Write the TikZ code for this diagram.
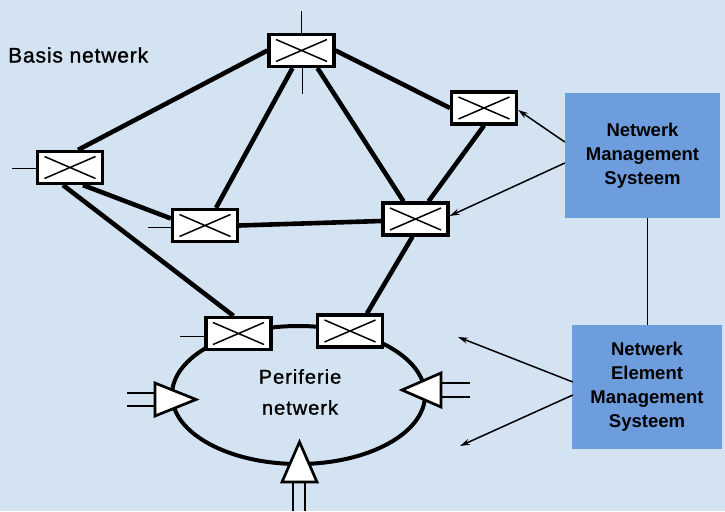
\documentclass[tikz,border=0pt]{standalone}
\usepackage{fontspec}
\setmainfont{Liberation Sans}
\usetikzlibrary{arrows.meta}
\definecolor{paper}{HTML}{D4E3F2}
\definecolor{mgmt}{HTML}{6E9DDE}
\pgfdeclarelayer{paperlayer}
\pgfdeclarelayer{linklayer}
\pgfsetlayers{paperlayer,linklayer,main}

\begin{document}
\begin{tikzpicture}[x=1pt,y=-1pt,
  switch/.style={draw, fill=white, line width=3.2pt, minimum width=65pt,
    minimum height=32pt, inner sep=0pt,
    path picture={\draw[line width=1.5pt]
      ([xshift=7pt,yshift=5pt]path picture bounding box.south west) --
      ([xshift=-7pt,yshift=-5pt]path picture bounding box.north east)
      ([xshift=7pt,yshift=-5pt]path picture bounding box.north west) --
      ([xshift=-7pt,yshift=5pt]path picture bounding box.south east);}},
  link/.style={line width=4.6pt},
  stub/.style={line width=1.5pt},
  ring/.style={line width=4pt},
  port/.style={draw, fill=white, line width=2.7pt, line join=miter},
  mgmtbox/.style={fill=mgmt, draw=none, align=center, inner sep=0pt,
    font=\fontsize{18.5}{24}\selectfont\bfseries},
  label/.style={inner sep=0pt},
  ctrl/.style={line width=1.5pt, -{Stealth[length=10pt,width=6pt]}}
]
\begin{pgfonlayer}{paperlayer}
  \fill[paper] (0,0) rectangle (725,511);
\end{pgfonlayer}
\useasboundingbox (0,0) rectangle (725,511);

% peripheral ring, drawn under the switches that sit on it
\draw[ring] (298.5,395) ellipse [x radius=126.5, y radius=69];

% entry ports on the ring
\coordinate (pl1) at (127,393); \coordinate (pl2) at (127,406);
\coordinate (pr1) at (470,383); \coordinate (pr2) at (470,397);
\coordinate (pb1) at (293,511); \coordinate (pb2) at (305,511);
\draw[stub] (pl1) -- (155,393) (pl2) -- (155,406);
\draw[stub] (pr1) -- (441,383) (pr2) -- (441,397);
\draw[stub] (pb1) -- (293,482) (pb2) -- (305,482);
\draw[port] (155,383) -- (196,399.5) -- (155,416) -- cycle;
\draw[port] (441,373) -- (402,390) -- (441,407) -- cycle;
\draw[port] (282,482) -- (299.5,442) -- (317,482) -- cycle;

% switches
\node[switch] (A) at (70,167.5) {};
\node[switch] (B) at (301.5,50.5) {};
\node[switch] (C) at (484,108) {};
\node[switch] (D) at (205,225.5) {};
\node[switch] (E) at (415.5,219) {};
\node[switch] (F) at (238.5,333.5) {};
\node[switch] (G) at (350,331) {};

% trunk links of the core network
\begin{pgfonlayer}{linklayer}
  \draw[link] ([xshift=8pt]A.north) -- (B.west);
  \draw[link] ([xshift=13pt]A.south) -- ([yshift=7pt]D.west);
  \draw[link] ([xshift=-7pt]A.south) -- ([xshift=-5pt]F.north);
  \draw[link] (B.east) -- (C.west);
  \draw[link] ([xshift=-9pt]B.south) -- ([xshift=11pt]D.north);
  \draw[link] ([xshift=16pt]B.south) -- ([xshift=-12pt]E.north);
  \draw[link] (C.south) -- ([xshift=13pt]E.north);
  \draw[link] (D.east) -- ([yshift=-2pt]E.west);
  \draw[link] ([xshift=-3pt]E.south) -- ([xshift=17pt]G.north);
\end{pgfonlayer}

% access stubs
\draw[stub] ([yshift=-1pt]A.west) -- ++(-24,0);
\draw[stub] (B.north) -- ++(0,-22);
\draw[stub] ([xshift=1pt]B.south) -- ++(0,26);
\draw[stub] ([yshift=-2pt]D.west) -- ++(-23,0);
\draw[stub] ([yshift=-3pt]F.west) -- ++(-24,0);

% labels
\node[label, anchor=west, font=\fontsize{21}{24}\addfontfeature{LetterSpace=4,FakeBold=1.2}\selectfont]
  (basis) at (8,55) {Basis netwerk};
\node[label, align=center, font=\fontsize{20}{31}\addfontfeature{LetterSpace=5,FakeBold=1.2}\selectfont]
  (peri) at (300,392) {Periferie\\netwerk};

% management systems
\node[mgmtbox, minimum width=155pt, minimum height=125pt] (NMS) at (642.5,155.5)
  {Netwerk\\Management\\Systeem};
\node[mgmtbox, minimum width=150pt, minimum height=124pt] (NEMS) at (647,387)
  {Netwerk\\Element\\Management\\Systeem};

\draw[line width=1.5pt] ([xshift=5pt]NMS.south) -- ([xshift=5pt]NMS.south |- NEMS.north);
\draw[ctrl] ([yshift=13.5pt]NMS.west) -- ([yshift=-2pt]C.east);
\draw[ctrl] ([yshift=-7.5pt]NMS.west) -- ([yshift=3pt]E.east);

\coordinate (t1) at (458,337);
\coordinate (t2) at (460,446);
\draw[ctrl] ([yshift=5pt,xshift=1pt]NEMS.west) -- (t1);
\draw[ctrl] ([yshift=-8pt,xshift=1pt]NEMS.west) -- (t2);
\end{tikzpicture}
\end{document}
